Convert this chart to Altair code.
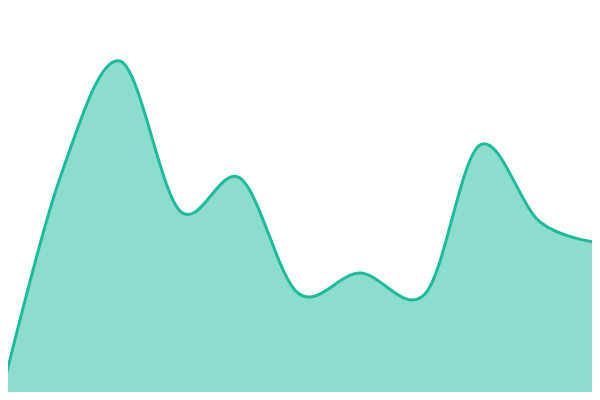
import altair as alt
import pandas as pd

# positions along the horizontal axis and heights (measured from the bottom edge)
xs = [0, 60, 120, 180, 240, 298, 360, 425, 480, 540, 600]
heights = [0, 222, 339, 189, 222, 107, 127, 106, 255, 178, 157]

df = pd.DataFrame({"x": xs, "v": heights})

x_enc = alt.X("x:Q", axis=None, scale=alt.Scale(domain=[8, 592], nice=False, zero=False))
y_enc = alt.Y("v:Q", axis=None, scale=alt.Scale(domain=[8, 392], nice=False, zero=False))

area = alt.Chart(df).mark_area(
    interpolate="cardinal", color="#1abc9c", fillOpacity=0.5, clip=True
).encode(x=x_enc, y=y_enc, y2=alt.datum(0))

line = alt.Chart(df).mark_line(
    interpolate="cardinal", color="#1abc9c", strokeWidth=3, clip=True
).encode(x=x_enc, y=y_enc)

chart = (area + line).properties(
    width=584, height=384, padding=0,
    autosize=alt.AutoSizeParams(type="none"),
).configure_view(stroke=None)

chart.save("out.html", embed_options={"renderer": "svg", "actions": False})
